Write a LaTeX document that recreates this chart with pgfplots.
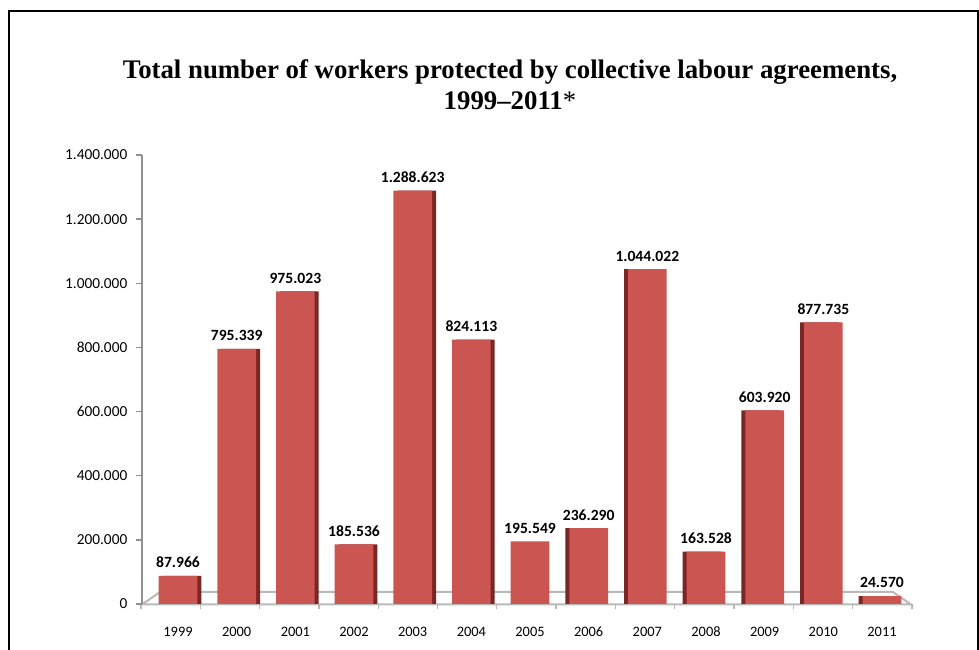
\documentclass[border=0pt]{standalone}
\usepackage{pgfplots}
\pgfplotsset{compat=1.18}
\usepackage{pgfplotstable}
\usepackage{fontspec}
\setmainfont{Carlito}
\newfontfamily\titlefont{Liberation Serif}

\definecolor{barred}{RGB}{203,85,81}
\definecolor{bardark}{RGB}{122,38,36}
\definecolor{axisgray}{RGB}{145,145,145}
\definecolor{floorgray}{RGB}{185,185,185}

% workers protected, index 0 = 1999
\pgfplotstableread{
x y label
0 87966 87.966
1 795339 795.339
2 975023 975.023
3 185536 185.536
4 1288623 1.288.623
5 824113 824.113
6 195549 195.549
7 236290 236.290
8 1044022 1.044.022
9 163528 163.528
10 603920 603.920
11 877735 877.735
12 24570 24.570
}\workers

\begin{document}
\begin{tikzpicture}[x=0.75pt,y=0.75pt]
\useasboundingbox (0,0) rectangle (979,650);
\clip (0,0) rectangle (979,650);

% outer frame
\draw[line width=1.5pt] (9,-20) -- (9,639) -- (977.5,639) -- (977.5,-20);

% title
\node[anchor=base, font=\titlefont\bfseries\fontsize{20.1}{24}\selectfont]
  at (510,571) {Total number of workers protected by collective labour agreements,};
\node[anchor=base, font=\titlefont\bfseries\fontsize{20.1}{24}\selectfont]
  at (510,540) {1999–2011{\mdseries*}};

% floor of the 3d look
\draw[floorgray, line width=1.5pt] (142,45.5) -- (160,58) -- (893,58) -- (911,45.5) -- cycle;
\foreach \i in {0,...,13} \draw[floorgray, line width=1pt] (141+\i*59.3,45.5) -- ++(0,-5);

\begin{axis}[
  at={(106.5pt,34.5pt)}, anchor=south west,
  scale only axis,
  width=577pt, height=336.75pt,
  xmin=-0.614, xmax=12.5,
  ymin=0, ymax=1400000,
  axis lines*=left,
  separate axis lines,
  x axis line style={draw=none},
  y axis line style={axisgray, line width=2.2pt},
  xtick={0,...,12},
  xticklabels={1999,2000,2001,2002,2003,2004,2005,2006,2007,2008,2009,2010,2011},
  xtick style={draw=none},
  ytick={0,200000,400000,600000,800000,1000000,1200000,1400000},
  yticklabels={0,200.000,400.000,600.000,800.000,1.000.000,1.200.000,1.400.000},
  ytick style={axisgray, line width=1pt},
  tick align=outside,
  major tick length=4.5pt,
  xticklabel style={font=\fontsize{10.8}{12}\selectfont, yshift=-9pt},
  yticklabel style={font=\fontsize{11.5}{13}\selectfont, xshift=-3pt},
  scaled y ticks=false,
  clip=false,
]
% dark sides
\addplot[ybar, bar width=29pt, bar shift=3pt, fill=bardark, draw=none]
  coordinates {(0,87966) (1,795339) (2,975023) (3,185536) (4,1288623) (5,824113)};
\addplot[ybar, bar width=29pt, bar shift=-3pt, fill=bardark, draw=none]
  coordinates {(7,236290) (8,1044022) (9,163528) (10,603920) (11,877735) (12,24570)};
% front faces
\addplot[ybar, bar width=29pt, bar shift=0pt, fill=barred, draw=none,
  point meta=explicit symbolic,
  nodes near coords,
  every node near coord/.append style={font=\bfseries\fontsize{11.7}{13}\selectfont, text=black, yshift=2.5pt}]
  table[x=x, y=y, meta=label] {\workers};
\end{axis}
\end{tikzpicture}
\end{document}
